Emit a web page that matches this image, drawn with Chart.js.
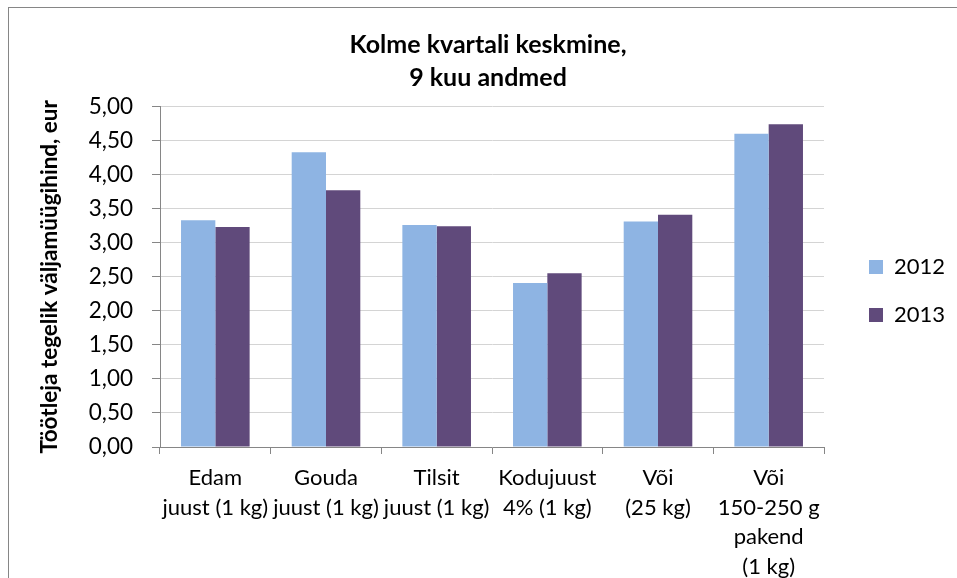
<!DOCTYPE html>
<html>
<head>
<meta charset="utf-8">
<title>Kolme kvartali keskmine</title>
<script src="https://cdn.jsdelivr.net/npm/chart.js@4/dist/chart.umd.min.js"></script>
<style>
  html, body { margin: 0; padding: 0; background: #fff; overflow: hidden; }
  #frame {
    position: absolute; left: 8px; top: 7px; width: 1100px; height: 700px;
    border: 1px solid #868686; box-sizing: border-box;
  }
  #wrap { position: absolute; left: 0; top: 0; width: 957px; height: 578px; }
</style>
</head>
<body>
<div id="frame"></div>
<div id="wrap"><canvas id="chart"></canvas></div>
<script>
  // values
  var categories = [
    ['Edam', 'juust (1 kg)'],
    ['Gouda', 'juust (1 kg)'],
    ['Tilsit', 'juust (1 kg)'],
    ['Kodujuust', '4% (1 kg)'],
    ['Või', '(25 kg)'],
    ['Või', '150-250 g', 'pakend', '(1 kg)']
  ];
  var seriesNames = ['2012', '2013'];
  var values2012 = [3.33, 4.33, 3.26, 2.41, 3.31, 4.60];
  var values2013 = [3.23, 3.77, 3.24, 2.55, 3.41, 4.74];
  var titleLines = ['Kolme kvartali keskmine,', '9 kuu andmed'];
  var yTitle = 'Töötleja tegelik väljamüügihind, eur';

  var FONT = 'Lato, "Open Sans", sans-serif';
  var AXIS = '#868686';

  Chart.defaults.color = '#000';
  Chart.defaults.font.family = FONT;

  // fixed legend width and a small nudge so it sits like the original
  var legendPlace = {
    id: 'legendPlace',
    beforeInit: function (chart) {
      var fit = chart.legend.fit;
      chart.legend.fit = function () {
        fit.call(chart.legend);
        this.width = 133;
      };
    },
    afterLayout: function (chart) {
      var lg = chart.legend;
      lg.left += 19;
      lg.top += 2;
      lg.bottom += 2;
    }
  };

  new Chart(document.getElementById('chart'), {
    type: 'bar',
    data: {
      labels: categories,
      datasets: [
        { label: seriesNames[0], data: values2012, backgroundColor: '#8eb4e3', borderWidth: 0 },
        { label: seriesNames[1], data: values2013, backgroundColor: '#604a7b', borderWidth: 0 }
      ]
    },
    plugins: [legendPlace],
    options: {
      responsive: true,
      maintainAspectRatio: false,
      animation: false,
      layout: { padding: { left: 19, top: 0, right: 0, bottom: 0 } },
      datasets: { bar: { categoryPercentage: 0.62, barPercentage: 1.0 } },
      plugins: {
        title: {
          display: true,
          text: titleLines,
          font: { size: 25, weight: 'bold', lineHeight: 1.33 },
          padding: { top: 28, bottom: 12 }
        },
        legend: {
          position: 'right',
          labels: { boxWidth: 14, boxHeight: 14, padding: 26, font: { size: 22 } }
        },
        tooltip: { enabled: false }
      },
      scales: {
        x: {
          grid: { drawOnChartArea: false, tickLength: 7, tickColor: AXIS },
          border: { color: AXIS },
          ticks: { maxRotation: 0, autoSkip: false, padding: 9, font: { size: 22, lineHeight: 1.35 } },
          afterFit: function (scale) { scale.height = 131; }
        },
        y: {
          min: 0,
          max: 5,
          ticks: {
            stepSize: 0.5,
            padding: 19,
            font: { size: 22.5 },
            callback: function (v) { return v.toFixed(2).replace('.', ','); }
          },
          grid: { color: '#d4d4d4', tickLength: 8, tickColor: AXIS },
          border: { color: AXIS },
          title: {
            display: true,
            text: yTitle,
            font: { size: 22.5, weight: 'bold' },
            padding: { top: 17, bottom: 0 }
          },
          afterFit: function (scale) { scale.width = 141; }
        }
      }
    }
  });
</script>
</body>
</html>
